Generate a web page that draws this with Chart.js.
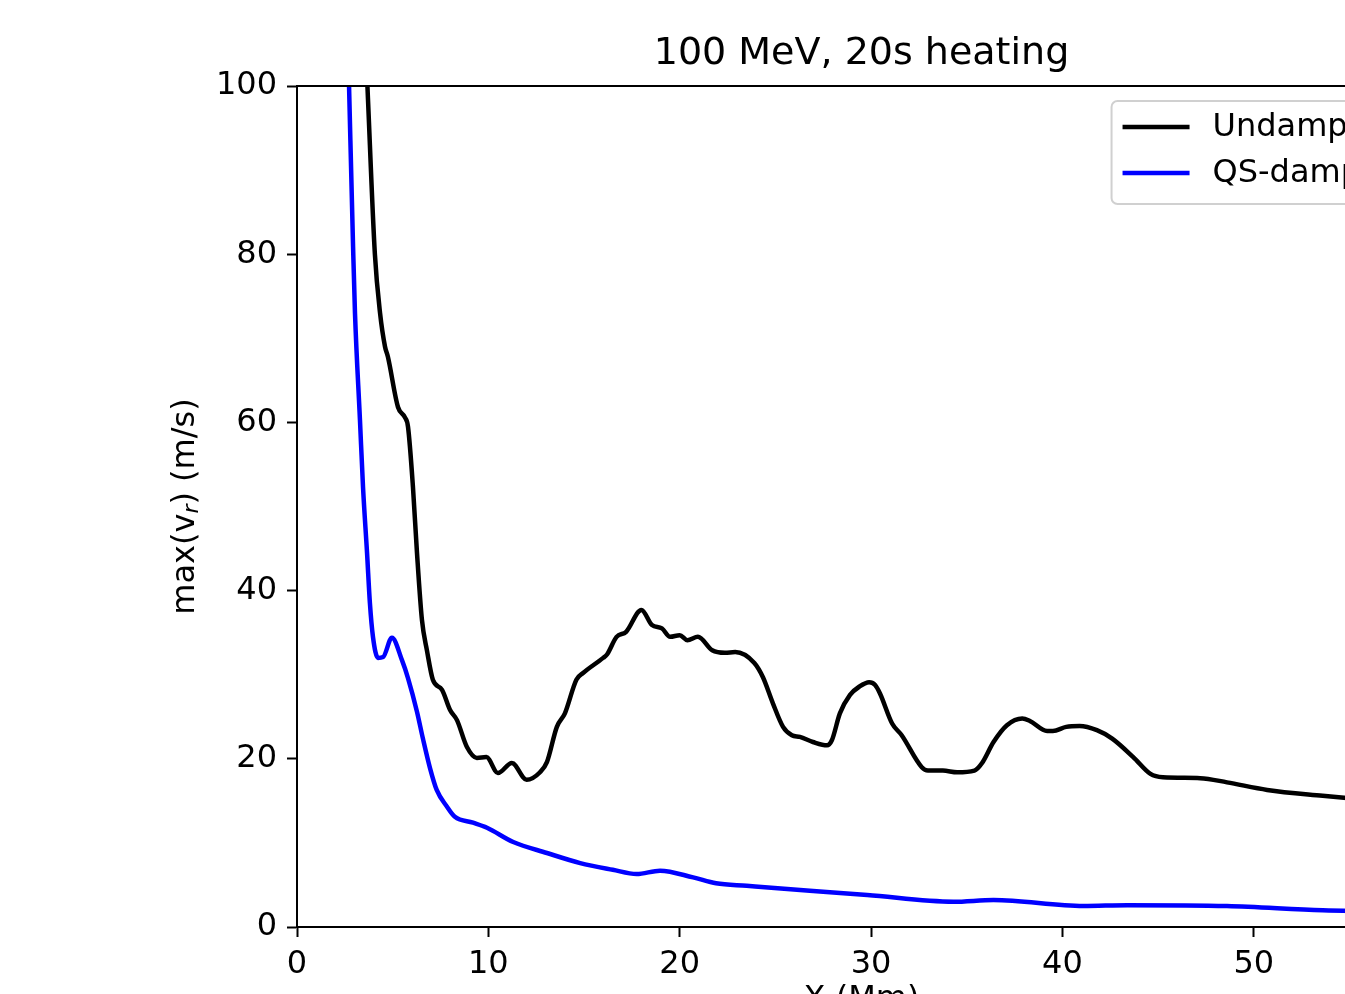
<!DOCTYPE html>
<html>
<head>
<meta charset="utf-8">
<script src="https://cdn.jsdelivr.net/npm/chart.js@4.4.1/dist/chart.umd.min.js"></script>
<style>
html,body{margin:0;padding:0;background:#fff;overflow:hidden;}
</style>
</head>
<body>
<canvas id="myChart" width="1500" height="1040"></canvas>
<script>
// values, x in Mm, y in m/s
const undampedX=[3.68,4.07,4.34,4.6,4.75,5.28,5.64,5.8,6.06,6.27,6.53,6.79,7.1,7.58,8.0,8.36,8.88,9.4,9.9,10.5,11.23,12.0,12.7,13.06,13.58,14.0,14.6,14.95,16.0,16.2,16.7,17.2,18.0,18.55,19.07,19.5,20.0,20.4,20.95,21.7,22.36,22.9,23.9,24.35,24.87,25.4,25.86,26.28,26.96,27.7,27.95,28.37,28.9,29.4,29.9,30.2,30.46,31.1,31.6,32.65,32.97,33.75,34.5,35.4,35.8,36.4,37.1,37.9,38.3,39.2,39.5,40.2,40.9,41.8,42.6,43.7,44.6,45.25,47.2,48.6,50.7,53.6,56.0,59.0];
const undampedY=[100,80,73,69,67.8,61.8,60.6,59.5,52.3,44.5,36.5,32.9,29.4,28.2,25.8,24.6,21.4,20.1,20.2,18.3,19.5,17.5,18.4,19.6,23.8,25.4,29.4,30.2,32.0,32.4,34.5,35.1,37.7,35.9,35.5,34.5,34.7,34.1,34.5,32.9,32.6,32.7,31.4,29.7,26.6,23.8,22.8,22.6,22.0,21.6,22.2,25.4,27.6,28.6,29.1,28.8,27.8,24.2,22.8,19.0,18.6,18.6,18.4,18.6,19.5,22.0,24.0,24.8,24.5,23.3,23.3,23.8,23.9,23.4,22.4,20.2,18.2,17.8,17.7,17.2,16.3,15.6,15.1,14.4];
const dampedX=[2.72,2.93,3.03,3.29,3.45,3.66,3.81,3.97,4.23,4.5,4.96,5.49,5.8,6.27,6.58,6.95,7.3,7.84,8.25,9.2,9.93,11.3,13.06,14.8,16.5,17.75,18.97,20.7,21.9,23.5,26.8,29.8,34.3,36.4,41.1,43.4,48.6,53.6,59.0];
const dampedY=[100,80.9,73,60.3,52.3,44.5,38.5,34.5,32.0,32.1,34.4,31.7,29.6,25.6,22.4,18.9,16.3,14.3,13.1,12.4,11.8,10.1,8.8,7.6,6.8,6.3,6.7,5.9,5.2,4.9,4.3,3.8,3.0,3.2,2.5,2.6,2.5,2.0,1.8];
const xTicks=[0,10,20,30,40,50];
const yTicks=[0,20,40,60,80,100];
const seriesNames=["Undamped","QS-damped"];
const seriesColors=["#000000","#0000ff"];

Chart.defaults.font.family='"DejaVu Sans", sans-serif';
Chart.defaults.color='#000';

const ctx=document.getElementById("myChart").getContext("2d");

function toPoints(xs,ys){
    return xs.map((x,i)=>({x:x,y:ys[i]}));
}

// top/right spines + legend box in the upper right corner
const framePlugin={
    id:"frame",
    afterDraw(chart){
        const c=chart.ctx, a=chart.chartArea;
        c.save();
        c.strokeStyle="#000";
        c.lineWidth=2;
        c.beginPath();
        c.moveTo(a.left-1,a.top);
        c.lineTo(a.right+1,a.top);
        c.moveTo(a.right,a.top);
        c.lineTo(a.right,a.bottom);
        c.stroke();

        // legend
        c.font='32px "DejaVu Sans"';
        let tw=0;
        chart.data.datasets.forEach(d=>{tw=Math.max(tw,c.measureText(d.label).width);});
        const w=12+62+25+tw+12, h=103;
        const right=a.right-15, left=right-w, top=a.top+15;
        c.beginPath();
        c.roundRect(left,top,w,h,6);
        c.fillStyle="rgba(255,255,255,0.8)";
        c.fill();
        c.strokeStyle="#d0d0d0";
        c.lineWidth=2;
        c.stroke();
        c.textBaseline="middle";
        c.textAlign="left";
        chart.data.datasets.forEach((d,i)=>{
            const yy=top+26+i*46;
            c.strokeStyle=d.borderColor;
            c.lineWidth=4.5;
            c.beginPath();
            c.moveTo(left+11,yy);
            c.lineTo(left+78,yy);
            c.stroke();
            c.fillStyle="#000";
            c.fillText(d.label,left+101,yy+1);
        });
        c.restore();
    }
};

// y axis title with subscript r
const yLabelPlugin={
    id:"ylabel",
    afterDraw(chart){
        const c=chart.ctx, a=chart.chartArea;
        const parts=[
            {t:"max(v",f:'32px "DejaVu Sans"',dy:0},
            {t:"r",f:'italic 22px "DejaVu Sans"',dy:4},
            {t:") (m/s)",f:'32px "DejaVu Sans"',dy:0}
        ];
        c.save();
        c.translate(a.left-103,(a.top+a.bottom)/2);
        c.rotate(-Math.PI/2);
        c.fillStyle="#000";
        c.textBaseline="alphabetic";
        c.textAlign="left";
        let total=0;
        parts.forEach(p=>{c.font=p.f;p.w=c.measureText(p.t).width;total+=p.w;});
        let x=-total/2;
        parts.forEach(p=>{c.font=p.f;c.fillText(p.t,x,p.dy);x+=p.w;});
        c.restore();
    }
};

const data={
    datasets:[{
        label:seriesNames[0],
        data:toPoints(undampedX,undampedY),
        borderColor:seriesColors[0],
        backgroundColor:seriesColors[0]
    },{
        label:seriesNames[1],
        data:toPoints(dampedX,dampedY),
        borderColor:seriesColors[1],
        backgroundColor:seriesColors[1]
    }]
};

const config={
    type:"line",
    data:data,
    options:{
        responsive:false,
        animation:false,
        events:[],
        layout:{padding:{left:0,right:74,top:0,bottom:0}},
        elements:{
            point:{radius:0},
            line:{borderWidth:4.5,cubicInterpolationMode:"monotone",fill:false,borderJoinStyle:"round"}
        },
        plugins:{
            legend:{display:false},
            tooltip:{enabled:false},
            title:{
                display:true,
                text:"100 MeV, 20s heating",
                fullSize:false,
                font:{size:38,weight:"normal"},
                padding:{top:31,bottom:9.4}
            }
        },
        scales:{
            x:{
                type:"linear",
                min:0,
                max:59,
                afterBuildTicks:(s)=>{s.ticks=xTicks.map(v=>({value:v}));},
                afterFit:(s)=>{s.height=113;},
                ticks:{font:{size:32},padding:8,maxRotation:0},
                grid:{drawOnChartArea:false,tickLength:10,tickWidth:2,tickColor:"#000"},
                border:{color:"#000",width:2},
                title:{display:true,text:"X (Mm)",font:{size:32},padding:{top:4,bottom:21}}
            },
            y:{
                type:"linear",
                min:0,
                max:100,
                afterBuildTicks:(s)=>{s.ticks=yTicks.map(v=>({value:v}));},
                afterFit:(s)=>{s.width=297;},
                ticks:{font:{size:32},padding:10},
                grid:{drawOnChartArea:false,tickLength:10,tickWidth:2,tickColor:"#000"},
                border:{color:"#000",width:2}
            }
        }
    },
    plugins:[framePlugin,yLabelPlugin]
};

const myChart=new Chart(ctx,config);
</script>
</body>
</html>
